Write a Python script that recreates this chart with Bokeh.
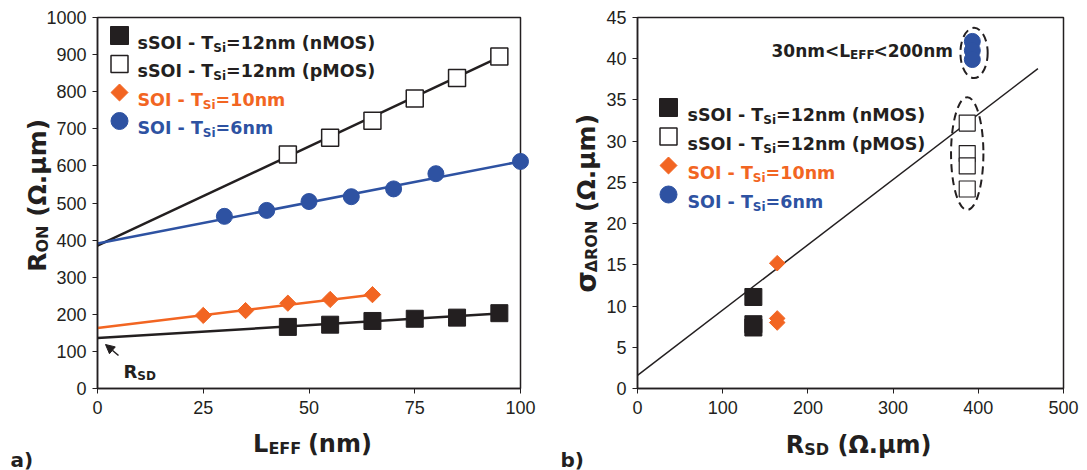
import math
from bokeh.plotting import figure
from bokeh.layouts import row
from bokeh.models import Label, Arrow, NormalHead, Range1d, FixedTicker
from bokeh.embed import file_html
from bokeh.resources import INLINE

# ---------------- data: panel a) R_ON vs L_EFF ----------------
leff_n = [45, 55, 65, 75, 85, 95]
ron_n = [166, 172, 182, 188, 191, 203]
leff_p = [45, 55, 65, 75, 85, 95]
ron_p = [631, 676, 722, 782, 837, 895]
leff_10 = [25, 35, 45, 55, 65]
ron_10 = [197, 210, 230, 240, 253]
leff_6 = [30, 40, 50, 60, 70, 80, 100]
ron_6 = [464, 480, 504, 517, 538, 579, 612]
# linear fits (end points)
fit_n_x = [0, 95]
fit_n_y = [136, 202]
fit_p_x = [0, 95]
fit_p_y = [385, 893]
fit_10_x = [0, 65]
fit_10_y = [163, 253]
fit_6_x = [0, 100]
fit_6_y = [391, 612]
xticks_a = [0, 25, 50, 75, 100]
yticks_a = [0, 100, 200, 300, 400, 500, 600, 700, 800, 900, 1000]

# ---------------- data: panel b) sigma vs R_SD ----------------
rsd_n = [136, 136, 136]
sig_n = [11.1, 7.8, 7.4]
rsd_p = [387, 387, 387, 387]
sig_p = [32.2, 28.5, 27.0, 24.2]
rsd_10 = [164, 164, 164]
sig_10 = [15.2, 8.5, 8.0]
rsd_6 = [393, 393, 393]
sig_6 = [42.1, 41.0, 39.9]
fit_b_x = [0, 470]
fit_b_y = [1.6, 38.8]
group_x = [395, 387]
group_y = [40.7, 28.5]
group_w = [32, 38]
group_h = [6.1, 13.7]
xticks_b = [0, 100, 200, 300, 400, 500]
yticks_b = [0, 5, 10, 15, 20, 25, 30, 35, 40, 45]

legend_labels = [("sSOI - T", "Si", "=12nm (nMOS)"), ("sSOI - T", "Si", "=12nm (pMOS)"),
                 ("SOI - T", "Si", "=10nm"), ("SOI - T", "Si", "=6nm")]

BLACK = "#231f20"
ORANGE = "#f26522"
BLUE = "#2e52a2"
TICK_FONT = "Liberation Sans"
FONT = "DejaVu Sans"
H = 470

# approximate DejaVu Sans Bold advance widths (per 1000 em)
WID = {' ': 348, '(': 457, ')': 457, '.': 380, '-': 415, '<': 838, '=': 838,
       'D': 830, 'E': 683, 'F': 632, 'I': 372, 'L': 637, 'M': 995, 'N': 837,
       'O': 850, 'R': 770, 'S': 720, 'T': 682, 'i': 343, 'm': 1042, 'n': 712,
       'p': 716, 's': 595, 'a': 675, 'b': 716, 'Ω': 850, 'μ': 721, 'Δ': 774,
       'σ': 728}


def tw(s, size):
    return sum(WID.get(c, 696) for c in s) * size / 1000.0


def rich(p, x0, px, py, parts, color=BLACK, angle=0.0):
    """parts: (text, size, shift below baseline). px,py: page pixel position of baseline start."""
    x = px - x0
    y = H - py
    pos = 0.0
    for text, size, shift in parts:
        lead = len(text) - len(text.lstrip(' '))
        pos += tw(' ' * lead, size)
        t = text.lstrip(' ')
        if angle == 0.0:
            lx, ly = x + pos, y - shift
        else:
            lx, ly = x + shift, y + pos
        p.add_layout(Label(x=lx, y=ly, x_units="screen", y_units="screen", text=t,
                           angle=angle, text_font=FONT, text_font_size=f"{size}px",
                           text_font_style="bold", text_color=color,
                           text_baseline="alphabetic", text_align="left"))
        pos += tw(t, size)
    return pos


def make_fig(c0, c1, f_l, f_r, f_t, f_b, xr, yr, xt, yt):
    """canvas spans page x c0..c1; data frame box at page pixels f_l..f_r, f_t..f_b."""
    sx = (f_r - f_l) / (xr[1] - xr[0])
    sy = (f_b - f_t) / (yr[1] - yr[0])
    x_range = Range1d(xr[0] - (f_l - c0) / sx, xr[1] + (c1 - f_r) / sx)
    y_range = Range1d(yr[0] - (H - f_b) / sy, yr[1] + f_t / sy)
    p = figure(frame_width=c1 - c0, frame_height=H, x_range=x_range, y_range=y_range,
               output_backend="svg", toolbar_location=None, min_border=0,
               min_border_left=0, min_border_right=0, min_border_top=0, min_border_bottom=0)
    p.xgrid.visible = False
    p.ygrid.visible = False
    p.outline_line_color = None
    p.background_fill_color = "white"
    p.border_fill_color = "white"
    p.quad(left=[xr[0]], right=[xr[1]], bottom=[yr[0]], top=[yr[1]], fill_color=None,
           line_color=BLACK, line_width=1.5)
    p.xaxis.ticker = FixedTicker(ticks=xt)
    p.yaxis.ticker = FixedTicker(ticks=yt)
    p.xaxis.fixed_location = yr[0]
    p.yaxis.fixed_location = xr[0]
    p.xaxis.bounds = xr
    p.yaxis.bounds = yr
    for ax in (p.xaxis, p.yaxis):
        ax.axis_line_color = BLACK
        ax.axis_line_width = 1.5
        ax.major_tick_line_color = BLACK
        ax.major_tick_line_width = 1
        ax.major_tick_out = 5
        ax.major_tick_in = 0
        ax.minor_tick_line_color = None
        ax.major_label_text_font = TICK_FONT
        ax.major_label_text_font_size = "18px"
        ax.major_label_text_color = BLACK
    p.xaxis.major_label_standoff = 7
    p.yaxis.major_label_standoff = 6
    return p, sx, sy


# ================= panel a =================
A0, A1 = 0, 548
AL, AR, AT, AB = 97, 520, 17, 388
p1, sx1, sy1 = make_fig(A0, A1, AL, AR, AT, AB, (0, 100), (0, 1000), xticks_a, yticks_a)


def a_pt(px, py):  # page pixel -> data
    return (px - AL) / sx1, (AB - py) / sy1


p1.line(fit_p_x, fit_p_y, line_color=BLACK, line_width=2.5)
p1.line(fit_6_x, fit_6_y, line_color=BLUE, line_width=2.5)
p1.line(fit_10_x, fit_10_y, line_color=ORANGE, line_width=2.5)
p1.line(fit_n_x, fit_n_y, line_color=BLACK, line_width=2.5)
p1.scatter(leff_p, ron_p, marker="square", size=17, fill_color="white", line_color=BLACK, line_width=1.5)
p1.scatter(leff_6, ron_6, marker="circle", size=16, fill_color=BLUE, line_color=BLUE)
p1.scatter(leff_10, ron_10, marker="square", angle=math.pi / 4, size=11.5, fill_color=ORANGE, line_color=ORANGE)
p1.scatter(leff_n, ron_n, marker="square", size=17, fill_color=BLACK, line_color=BLACK)

# legend a (marker centres / text baselines in page pixels)
leg_a_rows = [35, 63.5, 92, 120.5]
styles = [dict(marker="square", size=18, fill_color=BLACK, line_color=BLACK),
          dict(marker="square", size=17, fill_color="white", line_color=BLACK, line_width=1.5),
          dict(marker="square", angle=math.pi / 4, size=12, fill_color=ORANGE, line_color=ORANGE),
          dict(marker="circle", size=17, fill_color=BLUE, line_color=BLUE)]
colors = [BLACK, BLACK, ORANGE, BLUE]
for r, st, (t1, t2, t3), c in zip(leg_a_rows, styles, legend_labels, colors):
    mx, my = a_pt(119, r)
    p1.scatter([mx], [my], **st)
    rich(p1, A0, 137, r + 7, [(t1, 17.5, 0), (t2, 12, 5), (t3, 17.5, 0)], color=c)

# R_SD annotation
xs, ys = a_pt(118, 355)
xe, ye = a_pt(105, 344)
p1.add_layout(Arrow(end=NormalHead(size=9, fill_color=BLACK, line_color=BLACK, line_width=1),
                    x_start=xs, y_start=ys, x_end=xe, y_end=ye, line_color=BLACK, line_width=1.5))
rich(p1, A0, 123, 371, [("R", 18, 0), ("SD", 12, 4)])

# axis titles a
parts = [("L", 24, 0), ("EFF", 16, 5), (" (nm)", 24, 0)]
w = sum(tw(t, s) for t, s, _ in parts)
rich(p1, A0, 312 - w / 2, 443, parts)
parts = [("R", 25, 0), ("ON", 16, 5), (" (Ω.μm)", 25, 0)]
w = sum(tw(t, s) for t, s, _ in parts)
rich(p1, A0, 37, 195 + w / 2, parts, angle=math.pi / 2)
rich(p1, A0, 10, 459, [("a)", 20, 0)])

# ================= panel b =================
B0, B1 = 548, 1087
BL, BR, BT, BB = 637, 1063, 17, 388
p2, sx2, sy2 = make_fig(B0, B1, BL, BR, BT, BB, (0, 500), (0, 45), xticks_b, yticks_b)


def b_pt(px, py):
    return (px - BL) / sx2, (BB - py) / sy2


p2.line(fit_b_x, fit_b_y, line_color=BLACK, line_width=1.5)
p2.ellipse(x=group_x, y=group_y, width=group_w, height=group_h, fill_color=None,
           line_color=BLACK, line_width=2, line_dash="8 5")
p2.scatter(rsd_p, sig_p, marker="square", size=16, fill_color="white", line_color=BLACK, line_width=1.2)
p2.scatter(rsd_6, sig_6, marker="circle", size=16, fill_color=BLUE, line_color=BLUE)
p2.scatter(rsd_10, sig_10, marker="square", angle=math.pi / 4, size=11, fill_color=ORANGE, line_color=ORANGE)
p2.scatter(rsd_n, sig_n, marker="square", size=17, fill_color=BLACK, line_color=BLACK)

leg_b_rows = [107, 136, 165, 194]
for r, st, (t1, t2, t3), c in zip(leg_b_rows, styles, legend_labels, colors):
    mx, my = b_pt(668, r)
    p2.scatter([mx], [my], **st)
    rich(p2, B0, 687, r + 7, [(t1, 17.5, 0), (t2, 12, 5), (t3, 17.5, 0)], color=c)

rich(p2, B0, 771, 50, [("30nm<L", 17, 0), ("EFF", 12, 4), ("<200nm", 17, 0)])

parts = [("R", 24, 0), ("SD", 16, 5), (" (Ω.μm)", 24, 0)]
w = sum(tw(t, s) for t, s, _ in parts)
rich(p2, B0, 858 - w / 2, 444, parts)
parts = [("σ", 28, 0), ("ΔRON", 16, 5), (" (Ω.μm)", 25, 0)]
w = sum(tw(t, s) for t, s, _ in parts)
rich(p2, B0, 586, 203 + w / 2, parts, angle=math.pi / 2)
rich(p2, B0, 560, 459, [("b)", 20, 0)])

layout = row(p1, p2)
open("out.html", "w").write(file_html(layout, INLINE))
